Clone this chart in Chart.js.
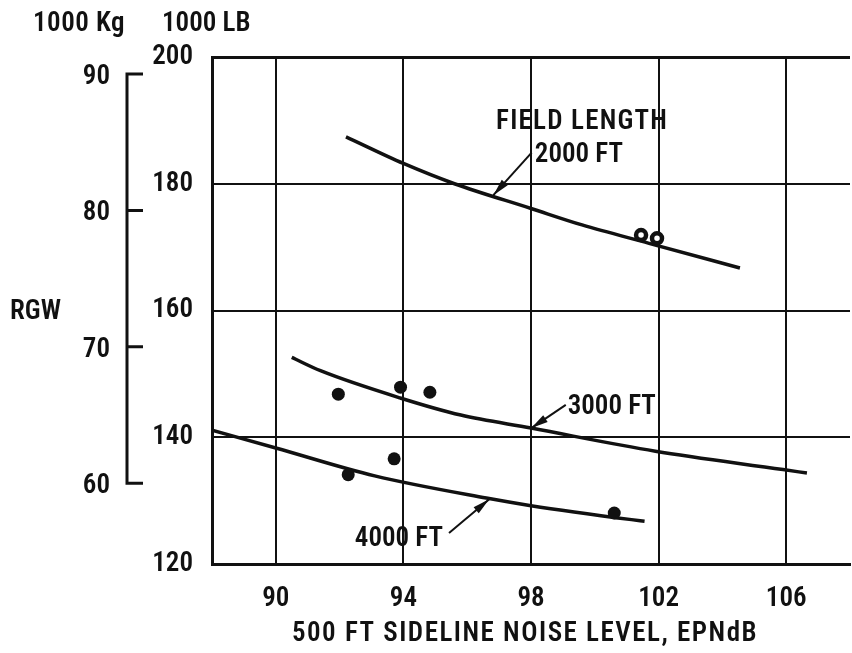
<!DOCTYPE html>
<html>
<head>
<meta charset="utf-8">
<script src="https://cdn.jsdelivr.net/npm/chart.js@4.4.1/dist/chart.umd.min.js"></script>
<style>
  html, body { margin: 0; padding: 0; background: #fff; }
  canvas { display: block; }
</style>
</head>
<body>
<canvas id="c" width="852" height="653"></canvas>
<script>
// ---- data ----
const xTicks = [90, 94, 98, 102, 106];
const yTicks = [120, 140, 160, 180, 200];
const kgTicks = [60, 70, 80, 90];

const curve2000X = [92.2, 94.0, 95.6, 98.0, 99.6, 101.7, 104.55];
const curve2000Y = [187.4, 183.2, 180.0, 176.1, 173.5, 170.6, 166.7];
const curve3000X = [90.5, 91.4, 93.9, 95.8, 98.0, 101.9, 105.9, 106.65];
const curve3000Y = [152.6, 150.5, 146.2, 143.5, 141.45, 137.8, 134.9, 134.35];
const curve4000X = [88.0, 90.0, 93.1, 96.6, 98.0, 101.15, 101.56];
const curve4000Y = [141.1, 138.3, 133.9, 130.4, 129.2, 127.0, 126.75];

const pts2000X = [101.45, 101.95];
const pts2000Y = [171.9, 171.4];
const ptsOtherX = [91.96, 93.91, 94.83, 92.27, 93.71, 100.61];
const ptsOtherY = [146.8, 147.9, 147.1, 134.1, 136.6, 128.05];

const xTitle = '500 FT SIDELINE NOISE LEVEL, EPNdB';
const kgTitle = '1000 Kg';
const lbTitle = '1000 LB';
const yName = 'RGW';

// annotations: [text, x, y] in data units, arrows: [tailX, tailY, tipX, tipY]
const labelField = ['FIELD LENGTH', 99.6, 189.7];
const label2000 = ['2000 FT', 98.12, 184.5];
const label3000 = ['3000 FT', 99.15, 144.8];
const label4000 = ['4000 FT', 93.86, 123.85];
const arrow2000 = [98.02, 184.9, 96.82, 178.2];
const arrow3000 = [99.09, 145.1, 98.01, 141.45];
const arrow4000 = [95.43, 124.9, 96.69, 130.2];

const INK = '#111';
const FONT_FAMILY = "'Roboto Condensed', 'DejaVu Sans Condensed', sans-serif";
const FONT_SIZE = 27;
const FONT_WEIGHT = '600';

const zip = (xs, ys) => xs.map((x, i) => ({ x: x, y: ys[i] }));

function lineDs(xs, ys) {
  return {
    type: 'line', data: zip(xs, ys), borderColor: INK, borderWidth: 3.5,
    pointRadius: 0, fill: false, cubicInterpolationMode: 'monotone', order: 2
  };
}

const decorPlugin = {
  id: 'decor',
  afterDraw(chart) {
    const ctx = chart.ctx;
    const xs = chart.scales.x, ys = chart.scales.y, kg = chart.scales.kg;
    ctx.save();
    ctx.fillStyle = INK;
    ctx.strokeStyle = INK;
    ctx.font = FONT_WEIGHT + ' ' + FONT_SIZE + 'px ' + FONT_FAMILY;

    // kg bracket axis
    const axX = 127, tickEnd = 143;
    const yTop = kg.getPixelForValue(kgTicks[kgTicks.length - 1]);
    const yBot = kg.getPixelForValue(kgTicks[0]);
    ctx.lineWidth = 3;
    ctx.beginPath();
    ctx.moveTo(axX, yTop); ctx.lineTo(axX, yBot);
    kgTicks.forEach(v => {
      const py = kg.getPixelForValue(v);
      ctx.moveTo(axX - 1.5, py); ctx.lineTo(tickEnd, py);
    });
    ctx.stroke();
    ctx.textAlign = 'right';
    ctx.textBaseline = 'middle';
    kgTicks.forEach(v => {
      ctx.fillText(String(v), 110, kg.getPixelForValue(v) + 3);
    });

    // titles
    ctx.textAlign = 'left';
    ctx.textBaseline = 'alphabetic';
    ctx.letterSpacing = '0.5px';
    ctx.fillText(kgTitle, 33, 31);
    ctx.letterSpacing = '0px';
    ctx.fillText(lbTitle, 162, 31);
    ctx.textBaseline = 'middle';
    ctx.fillText(yName, 10, 312);

    // x axis title
    ctx.textAlign = 'center';
    ctx.letterSpacing = '1.5px';
    ctx.fillText(xTitle, (xs.left + xs.right) / 2 - 6, 634);

    // annotation labels
    ctx.letterSpacing = '1.2px';
    ctx.fillText(labelField[0], xs.getPixelForValue(labelField[1]), ys.getPixelForValue(labelField[2]));
    ctx.letterSpacing = '0px';
    ctx.fillText(label4000[0], xs.getPixelForValue(label4000[1]), ys.getPixelForValue(label4000[2]));
    ctx.textAlign = 'left';
    ctx.fillText(label2000[0], xs.getPixelForValue(label2000[1]), ys.getPixelForValue(label2000[2]));
    ctx.fillText(label3000[0], xs.getPixelForValue(label3000[1]), ys.getPixelForValue(label3000[2]));

    // arrows
    [arrow2000, arrow3000, arrow4000].forEach(a => {
      const x1 = xs.getPixelForValue(a[0]), y1 = ys.getPixelForValue(a[1]);
      const x2 = xs.getPixelForValue(a[2]), y2 = ys.getPixelForValue(a[3]);
      ctx.lineWidth = 2;
      ctx.beginPath(); ctx.moveTo(x1, y1); ctx.lineTo(x2, y2); ctx.stroke();
      const ang = Math.atan2(y2 - y1, x2 - x1);
      const len = 17, hw = 4;
      const bx = x2 - len * Math.cos(ang), by = y2 - len * Math.sin(ang);
      ctx.beginPath();
      ctx.moveTo(x2, y2);
      ctx.lineTo(bx + hw * Math.sin(ang), by - hw * Math.cos(ang));
      ctx.lineTo(bx - hw * Math.sin(ang), by + hw * Math.cos(ang));
      ctx.closePath();
      ctx.fill();
    });
    ctx.restore();
  }
};

const tickFont = { family: FONT_FAMILY, size: FONT_SIZE, weight: FONT_WEIGHT };

new Chart(document.getElementById('c'), {
  type: 'scatter',
  data: {
    datasets: [
      lineDs(curve2000X, curve2000Y),
      lineDs(curve3000X, curve3000Y),
      lineDs(curve4000X, curve4000Y),
      {
        type: 'scatter', data: zip(pts2000X, pts2000Y), pointRadius: 5,
        pointBackgroundColor: '#fff', pointBorderColor: INK, pointBorderWidth: 4.5, order: 1
      },
      {
        type: 'scatter', data: zip(ptsOtherX, ptsOtherY), pointRadius: 6.5,
        pointBackgroundColor: INK, pointBorderColor: INK, pointBorderWidth: 0, order: 1
      }
    ]
  },
  options: {
    responsive: false,
    animation: false,
    layout: { autoPadding: false, padding: { top: 57, right: 2, left: 0, bottom: 0 } },
    plugins: { legend: { display: false }, tooltip: { enabled: false } },
    scales: {
      x: {
        type: 'linear', min: 88, max: 108,
        afterBuildTicks: s => { s.ticks = xTicks.map(v => ({ value: v })); },
        grid: { color: INK, lineWidth: 2, drawTicks: false },
        border: { color: INK, width: 3 },
        ticks: { padding: 19, font: tickFont, color: INK },
        title: { display: false },
        afterFit: s => { s.height = 89; s.paddingLeft = 0; s.paddingRight = 0; }
      },
      y: {
        type: 'linear', min: 120, max: 200,
        afterBuildTicks: s => { s.ticks = yTicks.map(v => ({ value: v })); },
        grid: { color: INK, lineWidth: c => (c.tick && c.tick.value === 200 ? 3 : 2), drawTicks: false },
        border: { color: INK, width: 3 },
        ticks: { padding: 19, font: tickFont, color: INK },
        afterFit: s => { s.width = 212; }
      },
      kg: { type: 'linear', display: false, position: 'left', min: 54.08, max: 91.25 }
    }
  },
  plugins: [decorPlugin]
});
</script>
</body>
</html>
